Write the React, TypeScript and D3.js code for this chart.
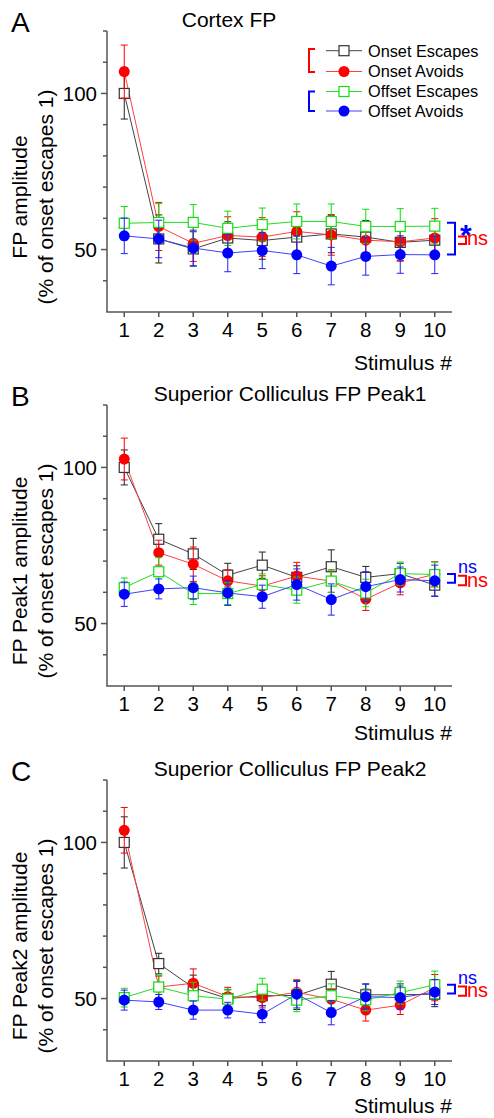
import React from "react";
import * as d3 from "d3";

// stimulus numbers and axis ticks
const stimuli = [1, 2, 3, 4, 5, 6, 7, 8, 9, 10];
const yMajorTicks = [50, 100];
const yMinorTicks = [40, 60, 70, 80, 90, 110, 120];
const seriesNames = ["Onset Escapes", "Onset Avoids", "Offset Escapes", "Offset Avoids"];

// Panel A - Cortex FP
const cortexOnsetEsc = [100, 53.4, 50.2, 53.7, 52.9, 54, 55, 54, 52.3, 53];
const cortexOnsetEscErr = [8.2, 7.7, 5.5, 5.2, 6, 6, 6, 5.3, 6, 5.5];
const cortexOnsetAvo = [107, 57.4, 52, 54.5, 54, 55.8, 54.7, 53, 52.5, 53.7];
const cortexOnsetAvoErr = [8.5, 7.7, 5.8, 6, 6.2, 6.3, 6.5, 6, 6, 6.2];
const cortexOffsetEsc = [58.4, 58.7, 58.7, 56.8, 58, 59, 59, 57.4, 57.4, 57.5];
const cortexOffsetEscErr = [5.4, 6, 5.7, 5.5, 5.3, 5.6, 5.6, 5.5, 5.7, 5.7];
const cortexOffsetAvo = [54.4, 53.4, 50.5, 48.9, 49.7, 48.3, 44.7, 47.8, 48.4, 48.3];
const cortexOffsetAvoErr = [5.7, 6, 5.7, 6, 5.8, 6, 6, 6, 6, 6];

// Panel B - Superior Colliculus FP Peak1
const peak1OnsetEsc = [100, 77, 72.3, 65.5, 68.7, 64.8, 68.2, 64.8, 66, 62.3];
const peak1OnsetEscErr = [5.6, 5, 5, 3.8, 4.2, 3.7, 5.4, 3.5, 3.3, 3.5];
const peak1OnsetAvo = [102.7, 72.7, 69, 63.7, 62, 65.2, 63.6, 57.8, 63, 65.8];
const peak1OnsetAvoErr = [6.7, 4, 5.5, 3.5, 3.3, 4.4, 3.6, 3.6, 3.8, 4];
const peak1OffsetEsc = [61.5, 66.6, 59.6, 59.6, 62.5, 60.7, 63.6, 59.8, 66, 65.7];
const peak1OffsetEscErr = [3.1, 4.5, 3.5, 3.5, 3.4, 4.2, 3.6, 4.4, 3.7, 4];
const peak1OffsetAvo = [59.4, 61.1, 61.5, 59.8, 58.6, 62.5, 57.7, 61.8, 64.1, 63.7];
const peak1OffsetAvoErr = [3.9, 3.2, 3.7, 4, 3.7, 5, 5, 4.8, 4, 5];

// Panel C - Superior Colliculus FP Peak2
const peak2OnsetEsc = [100, 61.2, 53.5, 50, 50.9, 51, 54.6, 51.2, 51.2, 51.4];
const peak2OnsetEscErr = [8.2, 3.3, 4, 2.8, 3.2, 4.5, 4.1, 3.5, 3.5, 4];
const peak2OnsetAvo = [103.9, 53.7, 54.9, 50.6, 50.3, 52, 49.8, 46.3, 47.9, 53.5];
const peak2OnsetAvoErr = [7.3, 3.5, 4.6, 3, 3.3, 4, 3.2, 3.5, 3, 4.2];
const peak2OffsetEsc = [50.3, 53.7, 50.9, 49.8, 53, 49.5, 50.9, 49.6, 51.9, 54.4];
const peak2OffsetEscErr = [3, 3.7, 4.3, 3.2, 3.5, 3.7, 3.8, 3.5, 3.7, 4.4];
const peak2OffsetAvo = [49.5, 48.9, 46.3, 46.3, 45, 51.4, 45.5, 50.6, 50.3, 52.1];
const peak2OffsetAvoErr = [3.2, 2.4, 2.9, 2.5, 2.7, 4.4, 3.9, 4, 3.7, 4];

// significance brackets (data units: top, bottom)
const cortexOffsetBracket = [58.6, 48.4];
const cortexOnsetBracket = [54.2, 51.8];
const peak1OffsetBracket = [65.85, 63.05];
const peak1OnsetBracket = [65.3, 62.3];
const peak2OffsetBracket = [54.4, 51.6];
const peak2OnsetBracket = [53.9, 50.9];

const FONT = "'Liberation Sans', Arial, Helvetica, sans-serif";

const styles = [
  { line: "#444", marker: "#333", err: "#222", shape: "square" },
  { line: "#ff4040", marker: "#ff0000", err: "#ff0000", shape: "circle" },
  { line: "#22dd22", marker: "#11dd11", err: "#11dd11", shape: "square" },
  { line: "#4040ff", marker: "#0000ff", err: "#2222ff", shape: "circle" },
];

const x = d3.scaleLinear().domain([0.5, 10.5]).range([107, 452]);

type PanelProps = {
  top: number;
  letter: string;
  title: string;
  titleX: number;
  ylabel: string;
  xlabelY: number;
  series: number[][];
  errs: number[][];
  offsetBracket: number[];
  onsetBracket: number[];
  offsetLabel: string;
  legend?: boolean;
};

const Marker = ({ shape, cx, cy, color }: any) =>
  shape === "square" ? (
    <rect x={cx - 5} y={cy - 5} width={10} height={10} fill="#fff" stroke={color} strokeWidth={1.2} />
  ) : (
    <circle cx={cx} cy={cy} r={5.5} fill={color} />
  );

const Panel = (p: PanelProps) => {
  const y = d3.scaleLinear().domain([30, 120]).range([p.top + 281, p.top]);
  const line = d3
    .line<number>()
    .x((_, i) => x(stimuli[i]))
    .y((d) => y(d));
  const bottom = p.top + 281;
  const labelY = p.top + 166;

  return (
    <g fontFamily={FONT}>
      <text x={11} y={p.top + 1} fontSize={28}>{p.letter}</text>
      <text x={p.titleX} y={p.top - 4} fontSize={21} textAnchor="middle">{p.title}</text>

      {/* y axis */}
      <line x1={107} x2={107} y1={p.top} y2={bottom} stroke="#555" strokeWidth={1.5} />
      {yMajorTicks.map((t) => (
        <g key={t}>
          <line x1={101} x2={107} y1={y(t)} y2={y(t)} stroke="#555" strokeWidth={1.5} />
          <text x={97} y={y(t)} dy="0.36em" fontSize={20.5} textAnchor="end">{t}</text>
        </g>
      ))}
      {yMinorTicks.map((t) => (
        <line key={t} x1={103} x2={107} y1={y(t)} y2={y(t)} stroke="#555" strokeWidth={1.5} />
      ))}
      <text transform={`translate(27,${labelY}) rotate(-90)`} fontSize={21} textAnchor="middle">{p.ylabel}</text>
      <text transform={`translate(53,${labelY}) rotate(-90)`} fontSize={21} textAnchor="middle">(% of onset escapes 1)</text>

      {/* x axis */}
      <line x1={106.25} x2={452} y1={bottom} y2={bottom} stroke="#555" strokeWidth={1.5} />
      {stimuli.map((s) => (
        <g key={s}>
          <line x1={x(s)} x2={x(s)} y1={bottom} y2={bottom + 5} stroke="#555" strokeWidth={1.5} />
          <text x={x(s)} y={bottom + 25} fontSize={20.5} textAnchor="middle">{s}</text>
        </g>
      ))}
      <text x={452} y={p.xlabelY} fontSize={21} textAnchor="end">Stimulus #</text>

      {/* lines */}
      {p.series.map((vals, k) => (
        <path key={k} d={line(vals) || ""} fill="none" stroke={styles[k].line} strokeWidth={1} />
      ))}
      {/* series: error bars + markers */}
      {p.series.map((vals, k) => (
        <g key={k}>
          {vals.map((v, i) => {
            const cx = x(stimuli[i]);
            const e = p.errs[k][i];
            const c = styles[k].err;
            return (
              <g key={i}>
                <line x1={cx} x2={cx} y1={y(v + e)} y2={y(v - e)} stroke={c} strokeWidth={1} />
                <line x1={cx - 3.5} x2={cx + 3.5} y1={y(v + e)} y2={y(v + e)} stroke={c} strokeWidth={1} />
                <line x1={cx - 3.5} x2={cx + 3.5} y1={y(v - e)} y2={y(v - e)} stroke={c} strokeWidth={1} />
              </g>
            );
          })}
          {vals.map((v, i) => (
            <Marker key={"m" + i} shape={styles[k].shape} cx={x(stimuli[i])} cy={y(v)} color={styles[k].marker} />
          ))}
        </g>
      ))}

      {/* significance brackets */}
      <path
        d={`M447,${y(p.offsetBracket[0])}H455V${y(p.offsetBracket[1])}H447`}
        fill="none"
        stroke="#0000ff"
        strokeWidth={2}
      />
      <path
        d={`M458,${y(p.onsetBracket[0])}H466V${y(p.onsetBracket[1])}H458`}
        fill="none"
        stroke="#ff0000"
        strokeWidth={2}
      />
      {p.offsetLabel === "*" ? (
        <text x={460} y={y(p.offsetBracket[0]) + 22} fontSize={30} fontWeight="bold" fill="#0000ff">*</text>
      ) : (
        <text x={458} y={y(p.offsetBracket[0]) - 1} fontSize={18} fill="#0000ff">{p.offsetLabel}</text>
      )}
      <text x={467} y={y(p.onsetBracket[1]) + 1.5} fontSize={20} fill="#ff0000">ns</text>

      {p.legend && (
        <g>
          <path d="M315,49H309V72H315" fill="none" stroke="#ff0000" strokeWidth={2} />
          <path d="M315,91.5H309V111H315" fill="none" stroke="#0000ff" strokeWidth={2} />
          {seriesNames.map((n, k) => {
            const ly = [50.7, 71.5, 91.5, 111][k];
            return (
              <g key={n}>
                <line x1={326} x2={362} y1={ly} y2={ly} stroke={styles[k].line} strokeWidth={1} />
                <Marker shape={styles[k].shape} cx={344} cy={ly} color={styles[k].marker} />
                <text x={368} y={ly} dy="0.36em" fontSize={16.3}>{n}</text>
              </g>
            );
          })}
        </g>
      )}
    </g>
  );
};

export default function App() {
  return (
    <svg
      width={494}
      height={1118}
      style={{ position: "absolute", left: 0, top: 0, background: "#fff" }}
    >
      <Panel
        top={31}
        letter="A"
        title="Cortex FP"
        titleX={229}
        ylabel="FP amplitude"
        xlabelY={370}
        series={[cortexOnsetEsc, cortexOnsetAvo, cortexOffsetEsc, cortexOffsetAvo]}
        errs={[cortexOnsetEscErr, cortexOnsetAvoErr, cortexOffsetEscErr, cortexOffsetAvoErr]}
        offsetBracket={cortexOffsetBracket}
        onsetBracket={cortexOnsetBracket}
        offsetLabel="*"
        legend
      />
      <Panel
        top={405}
        letter="B"
        title="Superior Colliculus FP Peak1"
        titleX={290}
        ylabel="FP Peak1 amplitude"
        xlabelY={740}
        series={[peak1OnsetEsc, peak1OnsetAvo, peak1OffsetEsc, peak1OffsetAvo]}
        errs={[peak1OnsetEscErr, peak1OnsetAvoErr, peak1OffsetEscErr, peak1OffsetAvoErr]}
        offsetBracket={peak1OffsetBracket}
        onsetBracket={peak1OnsetBracket}
        offsetLabel="ns"
      />
      <Panel
        top={780}
        letter="C"
        title="Superior Colliculus FP Peak2"
        titleX={290}
        ylabel="FP Peak2 amplitude"
        xlabelY={1113}
        series={[peak2OnsetEsc, peak2OnsetAvo, peak2OffsetEsc, peak2OffsetAvo]}
        errs={[peak2OnsetEscErr, peak2OnsetAvoErr, peak2OffsetEscErr, peak2OffsetAvoErr]}
        offsetBracket={peak2OffsetBracket}
        onsetBracket={peak2OnsetBracket}
        offsetLabel="ns"
      />
    </svg>
  );
}
